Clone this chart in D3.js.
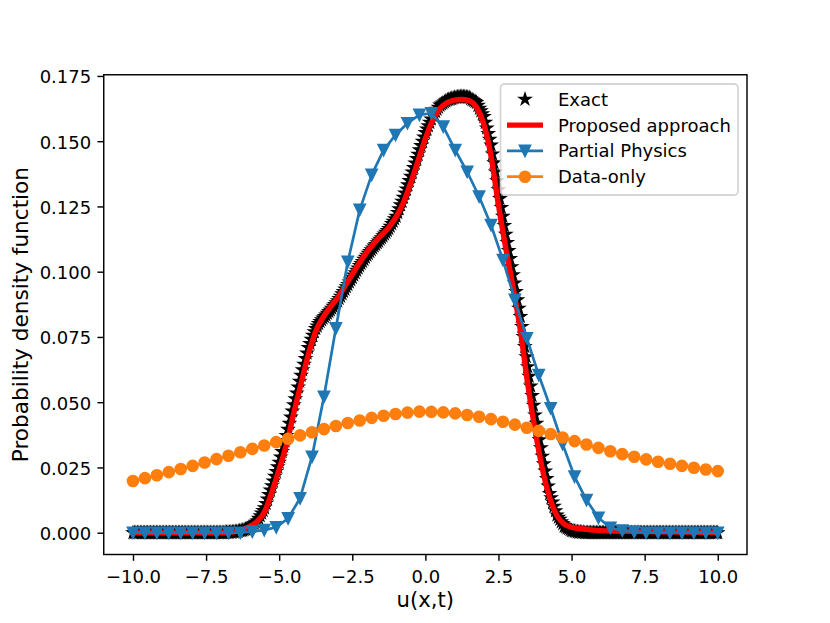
<!DOCTYPE html>
<html><head><meta charset="utf-8">
<script src="https://cdn.jsdelivr.net/npm/d3@7"></script>
<style>body{margin:0;background:#fff} text{font-family:"DejaVu Sans",sans-serif;fill:#000}</style>
</head><body><svg id="c" width="830" height="623"></svg>
<script>
// ---------------- data ----------------
const xTicks = [-10, -7.5, -5, -2.5, 0, 2.5, 5, 7.5, 10];
const yTicks = [0, 0.025, 0.05, 0.075, 0.1, 0.125, 0.15, 0.175];
const seriesNames = ["Exact", "Proposed approach", "Partial Physics", "Data-only"];

// Exact: 401 samples on [-10, 10], step 0.05
const exactStart = -10, exactStep = 0.05;
const exactY = [
0,0,0,0,0,0,0,0,0,0,
0,0,0,0,0,0,0,0,0,0,
0,0,0,0,0,0,0,0,0,0,
0,0,0,0,0,0,0,0,0,0,
0,0,0,0,0,0,0,0,0,0,
0,0,0,0,0,0,0,0,0,0,
0,0,0,0.0001,0.0001,
0.0001,0.0001,0.0002,0.0002,0.0003,
0.0003,0.0004,0.0005,0.0007,0.0008,
0.0009,0.0011,0.0013,0.0016,0.0018,
0.0020,0.0025,0.0030,0.0035,0.0040,
0.0045,0.0055,0.0065,0.0075,0.0085,
0.0095,0.0112,0.0129,0.0146,0.0163,
0.0180,0.0198,0.0216,0.0234,0.0252,
0.0270,0.0290,0.0311,0.0331,0.0352,
0.0372,0.0396,0.0419,0.0443,0.0466,
0.0490,0.0513,0.0535,0.0558,0.0580,
0.0603,0.0624,0.0645,0.0667,0.0688,
0.0709,0.0725,0.0741,0.0756,0.0770,
0.0782,0.0792,0.0801,0.0809,0.0816,
0.0822,0.0828,0.0834,0.0841,0.0847,
0.0853,0.0860,0.0867,0.0874,0.0881,
0.0888,0.0897,0.0906,0.0915,0.0924,
0.0933,0.0942,0.0951,0.0960,0.0969,
0.0978,0.0987,0.0996,0.1005,0.1014,
0.1023,0.1031,0.1039,0.1047,0.1055,
0.1063,0.1070,0.1077,0.1084,0.1091,
0.1098,0.1104,0.1111,0.1117,0.1124,
0.1130,0.1137,0.1144,0.1151,0.1158,
0.1165,0.1174,0.1184,0.1193,0.1203,
0.1212,0.1227,0.1241,0.1256,0.1270,
0.1285,0.1301,0.1317,0.1333,0.1349,
0.1365,0.1382,0.1399,0.1416,0.1433,
0.1450,0.1467,0.1483,0.1500,0.1516,
0.1533,0.1546,0.1559,0.1572,0.1585,
0.1598,0.1606,0.1614,0.1622,0.1630,
0.1638,0.1642,0.1646,0.1650,0.1654,
0.1658,0.1660,0.1662,0.1663,0.1665,
0.1667,0.1668,0.1669,0.1670,0.1670,
0.1671,0.1670,0.1670,0.1669,0.1668,
0.1667,0.1663,0.1659,0.1656,0.1652,
0.1648,0.1637,0.1626,0.1616,0.1605,
0.1594,0.1572,0.1550,0.1529,0.1507,
0.1485,0.1451,0.1417,0.1382,0.1348,
0.1314,0.1280,0.1246,0.1212,0.1177,
0.1143,0.1112,0.1081,0.1050,0.1019,
0.0988,0.0956,0.0924,0.0892,0.0860,
0.0828,0.0790,0.0751,0.0713,0.0674,
0.0636,0.0599,0.0562,0.0525,0.0488,
0.0451,0.0419,0.0388,0.0356,0.0325,
0.0293,0.0264,0.0236,0.0207,0.0179,
0.0150,0.0134,0.0117,0.0101,0.0084,
0.0068,0.0059,0.0051,0.0042,0.0034,
0.0025,0.0022,0.0018,0.0015,0.0011,
0.0008,0.0007,0.0005,0.0004,0.0003,
0.0002,0.0002,0.0001,0.0001,0.0000,
0,0,0,0,0,0,0,0,0,0,
0,0,0,0,0,0,0,0,0,0,
0,0,0,0,0,0,0,0,0,0,
0,0,0,0,0,0,0,0,0,0,
0,0,0,0,0,0,0,0,0,0,
0,0,0,0,0,0,0,0,0,0,
0,0,0,0,0,0,0,0,0,0,
0,0,0,0,0,0,0,0,0,0,
0,0,0,0,0,0,0,0,0,0,
0
];

// Proposed approach (red line)
const redX = [-10,-9,-8,-7.5,
-7,-6.75,-6.5,-6.25,-6,-5.75,-5.5,-5.25,-5,-4.75,-4.5,-4.25,-4,-3.75,-3.5,-3.25,
-3,-2.75,-2.5,-2.25,-2,-1.75,-1.5,-1.25,-1,-0.75,-0.5,-0.25,0,0.25,0.5,0.75,
1,1.25,1.5,1.75,2,2.25,2.5,2.75,3,3.25,3.5,3.75,4,4.25,4.5,4.75,5,5.25,5.5,5.75,6,
6.5,7,8,9,10];
const redY = [0,0,0,0,
0.0000,0.0001,0.0004,0.0012,0.0024,0.0043,0.0080,0.0155,0.0243,0.0338,0.0458,0.0572,0.0683,0.0772,0.0825,0.0865,
0.0900,0.0945,0.0990,0.1035,0.1075,0.1110,0.1140,0.1170,0.1210,0.1265,0.1340,0.1425,0.1510,0.1580,0.1625,0.1648,
0.1657,0.1660,0.1655,0.1630,0.1565,0.1440,0.1255,0.1090,0.0940,0.0775,0.0570,0.0395,0.0245,0.0135,0.0065,0.0033,0.0021,0.0016,0.0013,0.0010,0.0008,
0.0006,0.0005,0.0003,0.0002,0.0001];

// Partial Physics (50 samples, linspace(-10,10,50))
const partialY = [0,0,0,0,0,0,0,0,0,0,
0.0004,0.0010,0.0021,0.0055,0.0132,0.0291,0.0521,0.0783,0.1038,0.1237,
0.1371,0.1466,0.1524,0.1569,0.1601,0.1607,0.1556,0.1466,0.1383,0.1288,
0.1179,0.1045,0.0892,0.0745,0.0604,0.0477,0.0340,0.0215,0.0125,0.0057,
0.0019,0.0008,0.0003,0,0,0,0,0,0,0];

// Data-only (50 samples, linspace(-10,10,50))
const dataOnlyY = [0.0198,0.0209,0.0220,0.0232,0.0244,0.0256,0.0269,0.0282,0.0295,0.0308,
0.0321,0.0334,0.0347,0.0360,0.0373,0.0385,0.0397,0.0409,0.0420,0.0430,
0.0440,0.0448,0.0455,0.0460,0.0464,0.0463,0.0461,0.0457,0.0451,0.0444,
0.0435,0.0425,0.0414,0.0402,0.0390,0.0378,0.0365,0.0351,0.0338,0.0325,
0.0312,0.0301,0.0291,0.0281,0.0272,0.0264,0.0256,0.0249,0.0242,0.0236];

// ---------------- layout ----------------
const L = 103.75, R = 747, T = 74.76, B = 554.5;
const C = {exact:"#000000", red:"#ff0000", blue:"#1f77b4", orange:"#ff7f0e"};
const svg = d3.select("#c");
svg.append("rect").attr("width",830).attr("height",623).attr("fill","#fff");

const x = d3.scaleLinear().domain([-11, 11]).range([L, R]);
const y = d3.scaleLinear().domain([-0.008355, 0.175455]).range([B, T]);

const exactPts = exactY.map((v,i)=>[exactStart + i*exactStep, v]);
const n50 = d3.range(50).map(i => -10 + i*20/49);
const partialPts = partialY.map((v,i)=>[n50[i], v]);
const dataPts = dataOnlyY.map((v,i)=>[n50[i], v]);
const redPts = redY.map((v,i)=>[redX[i], v]);

svg.append("clipPath").attr("id","clip").append("rect")
  .attr("x",L).attr("y",T).attr("width",R-L).attr("height",B-T);
const plot = svg.append("g").attr("clip-path","url(#clip)");

const starPath = d3.symbol(d3.symbolStar, 32.7)();
const triPath = "M0,5.4L-5.4,-5.4L5.4,-5.4Z";
const line = d3.line().x(d=>x(d[0])).y(d=>y(d[1]));

// Exact stars
plot.append("g").selectAll("path").data(exactPts).join("path")
  .attr("d", starPath)
  .attr("transform", d=>`translate(${x(d[0])},${y(d[1])})`)
  .attr("fill", C.exact).attr("stroke", C.exact).attr("stroke-width",1.8)
  .attr("stroke-linejoin","miter");

// Proposed red line
plot.append("path").datum(redPts)
  .attr("d", line.curve(d3.curveMonotoneX))
  .attr("fill","none").attr("stroke",C.red).attr("stroke-width",5.4)
  .attr("stroke-linejoin","round");

// Partial physics
const lineLin = d3.line().x(d=>x(d[0])).y(d=>y(d[1]));
plot.append("path").datum(partialPts).attr("d", lineLin)
  .attr("fill","none").attr("stroke",C.blue).attr("stroke-width",2.7)
  .attr("stroke-linejoin","round");
plot.append("g").selectAll("path").data(partialPts).join("path")
  .attr("d", triPath)
  .attr("transform", d=>`translate(${x(d[0])},${y(d[1])})`)
  .attr("fill", C.blue).attr("stroke", C.blue).attr("stroke-width",1.8)
  .attr("stroke-linejoin","miter");

// Data-only
plot.append("path").datum(dataPts).attr("d", lineLin)
  .attr("fill","none").attr("stroke",C.orange).attr("stroke-width",2.7)
  .attr("stroke-linejoin","round");
plot.append("g").selectAll("circle").data(dataPts).join("circle")
  .attr("cx", d=>x(d[0])).attr("cy", d=>y(d[1])).attr("r",5.4)
  .attr("fill", C.orange).attr("stroke", C.orange).attr("stroke-width",1.8);

// ---------------- axes ----------------
const fmtX = d3.format(".1f"), fmtY = d3.format(".3f");
const gx = svg.append("g").attr("transform",`translate(0,${B})`)
  .call(d3.axisBottom(x).tickValues(xTicks).tickSize(6.3).tickPadding(6.3).tickFormat(fmtX));
const gy = svg.append("g").attr("transform",`translate(${L},0)`)
  .call(d3.axisLeft(y).tickValues(yTicks).tickSize(6.3).tickPadding(6.3).tickFormat(fmtY));
[gx, gy].forEach(g=>{
  g.select(".domain").remove();
  g.selectAll(".tick line").attr("stroke","#000").attr("stroke-width",1.44);
  g.selectAll(".tick text").attr("font-size","18px").attr("font-family","DejaVu Sans").attr("fill","#000");
});
gx.selectAll(".tick text").attr("dy",null).attr("y", 28.8);
gy.selectAll(".tick text").attr("dy","0.38em");

svg.append("rect").attr("x",L).attr("y",T).attr("width",R-L).attr("height",B-T)
  .attr("fill","none").attr("stroke","#000").attr("stroke-width",1.44);

svg.append("text").attr("x",(L+R)/2).attr("y",606.5).attr("text-anchor","middle")
  .attr("font-size","21.2px").text("u(x,t)");
svg.append("text").attr("transform",`translate(28,${(T+B)/2}) rotate(-90)`)
  .attr("text-anchor","middle").attr("font-size","21.6px").text("Probability density function");

// ---------------- legend ----------------
const lg = svg.append("g");
lg.append("rect").attr("x",500.5).attr("y",84).attr("width",237.5).attr("height",111).attr("rx",4)
  .attr("fill","#fff").attr("fill-opacity",0.8).attr("stroke","#cccccc").attr("stroke-opacity",0.8).attr("stroke-width",1.8);
const hx0 = 507, hx1 = 543, hxc = 525, tx = 558;
const rows = seriesNames.map((s,i)=>({name:s, cy: 99.3 + i*25.8}));
// Exact
lg.append("path").attr("d",starPath).attr("transform",`translate(${hxc},${rows[0].cy})`)
  .attr("fill",C.exact).attr("stroke",C.exact).attr("stroke-width",1.8);
// Proposed
lg.append("line").attr("x1",hx0).attr("x2",hx1).attr("y1",rows[1].cy).attr("y2",rows[1].cy)
  .attr("stroke",C.red).attr("stroke-width",5.4);
// Partial
lg.append("line").attr("x1",hx0).attr("x2",hx1).attr("y1",rows[2].cy).attr("y2",rows[2].cy)
  .attr("stroke",C.blue).attr("stroke-width",2.7);
lg.append("path").attr("d",triPath).attr("transform",`translate(${hxc},${rows[2].cy})`)
  .attr("fill",C.blue).attr("stroke",C.blue).attr("stroke-width",1.8);
// Data-only
lg.append("line").attr("x1",hx0).attr("x2",hx1).attr("y1",rows[3].cy).attr("y2",rows[3].cy)
  .attr("stroke",C.orange).attr("stroke-width",2.7);
lg.append("circle").attr("cx",hxc).attr("cy",rows[3].cy).attr("r",5.4)
  .attr("fill",C.orange).attr("stroke",C.orange).attr("stroke-width",1.8);
lg.selectAll("text.lab").data(rows).join("text").attr("class","lab")
  .attr("x",tx).attr("y",d=>d.cy+6.5).attr("font-size","18px").text(d=>d.name);
</script></body></html>
